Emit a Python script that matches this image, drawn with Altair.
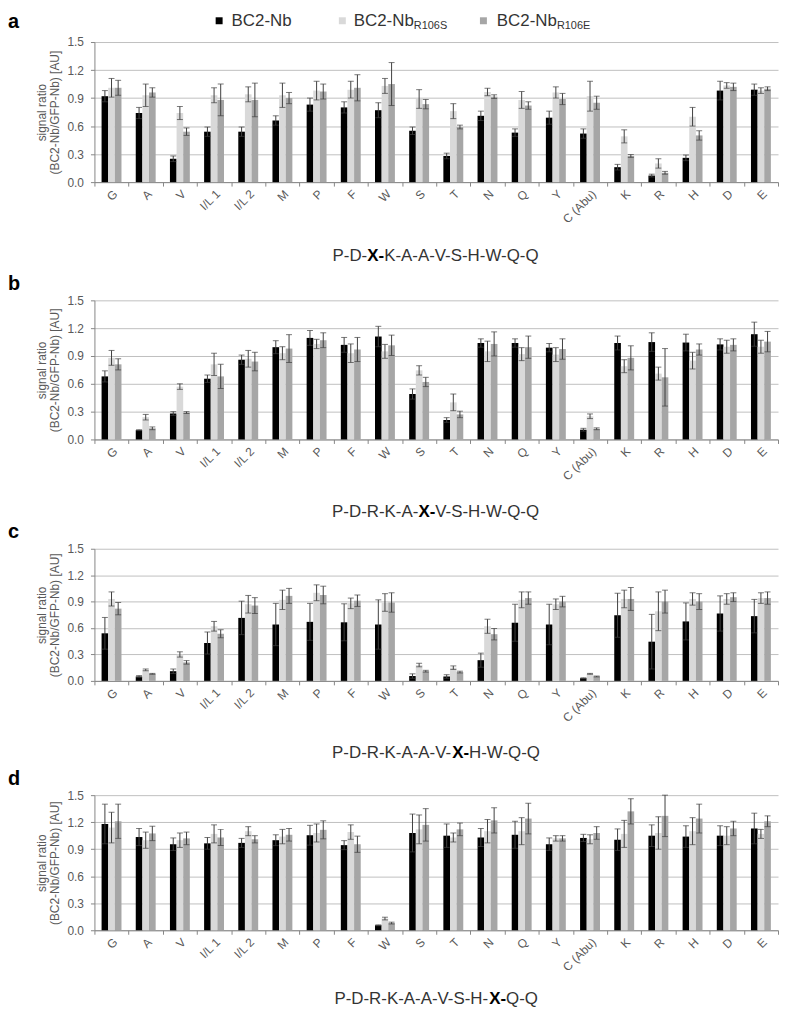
import altair as alt
import pandas as pd

categories = ["G", "A", "V", "I/L 1", "I/L 2", "M", "P", "F", "W", "S", "T",
              "N", "Q", "Y", "C (Abu)", "K", "R", "H", "D", "E"]
series = ["BC2-Nb", "BC2-Nb R106S", "BC2-Nb R106E"]
colors = ["#000000", "#d9d9d9", "#a6a6a6"]

# panel a
a_wt = [0.92, 0.74, 0.25, 0.54, 0.54, 0.66, 0.83, 0.80, 0.77, 0.55, 0.28, 0.71, 0.53, 0.69, 0.52, 0.16, 0.07, 0.26, 0.98, 0.99]
a_wt_sd = [0.06, 0.06, 0.03, 0.05, 0.05, 0.05, 0.07, 0.06, 0.08, 0.04, 0.03, 0.05, 0.04, 0.07, 0.05, 0.03, 0.015, 0.03, 0.10, 0.06]
a_s = [1.01, 0.93, 0.74, 0.93, 0.94, 0.93, 0.98, 0.99, 1.03, 0.89, 0.76, 0.965, 0.88, 0.96, 0.92, 0.49, 0.20, 0.70, 1.035, 0.98]
a_s_sd = [0.10, 0.12, 0.07, 0.08, 0.08, 0.13, 0.10, 0.09, 0.08, 0.10, 0.08, 0.04, 0.09, 0.06, 0.16, 0.07, 0.05, 0.10, 0.03, 0.03]
a_e = [1.01, 0.96, 0.54, 0.88, 0.88, 0.90, 0.97, 1.01, 1.05, 0.835, 0.59, 0.915, 0.82, 0.89, 0.85, 0.28, 0.10, 0.50, 1.02, 1.00]
a_e_sd = [0.08, 0.05, 0.04, 0.17, 0.18, 0.06, 0.08, 0.14, 0.23, 0.05, 0.02, 0.02, 0.04, 0.06, 0.07, 0.015, 0.015, 0.05, 0.04, 0.02]

# panel b
b_wt = [0.68, 0.10, 0.28, 0.655, 0.86, 0.995, 1.095, 1.02, 1.11, 0.49, 0.21, 1.04, 1.04, 0.99, 0.105, 1.04, 1.05, 1.045, 1.025, 1.135]
b_wt_sd = [0.06, 0.005, 0.02, 0.04, 0.05, 0.07, 0.08, 0.08, 0.11, 0.055, 0.025, 0.045, 0.045, 0.045, 0.015, 0.075, 0.10, 0.09, 0.06, 0.13]
b_s = [0.88, 0.24, 0.57, 0.81, 0.87, 0.93, 1.03, 0.93, 0.95, 0.745, 0.40, 0.95, 0.92, 0.915, 0.25, 0.79, 0.71, 0.85, 1.0, 1.0]
b_s_sd = [0.08, 0.03, 0.03, 0.12, 0.09, 0.07, 0.05, 0.10, 0.075, 0.05, 0.09, 0.11, 0.07, 0.075, 0.025, 0.07, 0.07, 0.09, 0.07, 0.07]
b_e = [0.81, 0.12, 0.29, 0.68, 0.84, 0.98, 1.07, 0.97, 1.015, 0.62, 0.27, 1.03, 0.995, 0.975, 0.115, 0.88, 0.67, 0.97, 1.02, 1.055]
b_e_sd = [0.06, 0.015, 0.01, 0.13, 0.10, 0.15, 0.08, 0.13, 0.11, 0.05, 0.035, 0.13, 0.12, 0.11, 0.01, 0.13, 0.31, 0.06, 0.065, 0.11]

# panel c
c_wt = [0.54, 0.05, 0.11, 0.43, 0.715, 0.64, 0.67, 0.665, 0.64, 0.055, 0.05, 0.235, 0.66, 0.64, 0.03, 0.745, 0.445, 0.675, 0.765, 0.735]
c_wt_sd = [0.18, 0.01, 0.025, 0.125, 0.19, 0.24, 0.21, 0.21, 0.28, 0.025, 0.02, 0.08, 0.21, 0.23, 0.005, 0.25, 0.31, 0.21, 0.20, 0.19]
c_s = [0.93, 0.125, 0.30, 0.62, 0.87, 0.92, 1.0, 0.88, 0.89, 0.18, 0.15, 0.62, 0.92, 0.87, 0.08, 0.93, 0.79, 0.93, 0.93, 0.94]
c_s_sd = [0.08, 0.01, 0.03, 0.055, 0.10, 0.11, 0.09, 0.06, 0.10, 0.02, 0.02, 0.08, 0.09, 0.06, 0.005, 0.10, 0.22, 0.07, 0.06, 0.06]
c_e = [0.82, 0.08, 0.21, 0.535, 0.855, 0.965, 0.975, 0.91, 0.89, 0.11, 0.10, 0.53, 0.94, 0.90, 0.05, 0.93, 0.90, 0.90, 0.95, 0.94]
c_e_sd = [0.07, 0.005, 0.02, 0.045, 0.09, 0.085, 0.10, 0.065, 0.11, 0.01, 0.01, 0.065, 0.07, 0.06, 0.005, 0.13, 0.13, 0.09, 0.05, 0.07]

# panel d
d_wt = [1.18, 1.035, 0.955, 0.965, 0.97, 1.0, 1.055, 0.945, 0.055, 1.08, 1.05, 1.03, 1.06, 0.955, 1.025, 1.005, 1.05, 1.04, 1.05, 1.13]
d_wt_sd = [0.22, 0.095, 0.07, 0.065, 0.05, 0.06, 0.11, 0.05, 0.005, 0.21, 0.13, 0.10, 0.15, 0.07, 0.04, 0.12, 0.12, 0.12, 0.11, 0.17]
d_s = [1.14, 1.0, 1.0, 1.07, 1.10, 1.04, 1.08, 1.09, 0.13, 1.12, 1.03, 1.1, 1.1, 1.02, 1.01, 1.07, 1.08, 1.1, 1.05, 1.07]
d_s_sd = [0.17, 0.09, 0.08, 0.10, 0.05, 0.08, 0.10, 0.08, 0.015, 0.16, 0.05, 0.13, 0.15, 0.03, 0.05, 0.15, 0.18, 0.15, 0.10, 0.05]
d_e = [1.21, 1.075, 1.02, 1.03, 1.01, 1.06, 1.115, 0.955, 0.08, 1.17, 1.12, 1.22, 1.24, 1.02, 1.08, 1.32, 1.27, 1.24, 1.13, 1.21]
d_e_sd = [0.19, 0.08, 0.07, 0.09, 0.04, 0.07, 0.10, 0.09, 0.01, 0.18, 0.07, 0.14, 0.17, 0.03, 0.07, 0.14, 0.23, 0.16, 0.08, 0.06]

panel_labels = ["a", "b", "c", "d"]
sequences = [
    ("P-D-", "X-", "K-A-A-V-S-H-W-Q-Q"),
    ("P-D-R-K-A-", "X-", "V-S-H-W-Q-Q"),
    ("P-D-R-K-A-A-V-", "X-", "H-W-Q-Q"),
    ("P-D-R-K-A-A-V-S-H-", "X-", "Q-Q"),
]
legend_main = "BC2-Nb"
legend_sub = ["", "R106S", "R106E"]
y_title = ["signal ratio", "(BC2-Nb/GFP-Nb) [AU]"]
y_ticks = [0.0, 0.3, 0.6, 0.9, 1.2, 1.5]

# ---- layout constants ----
W = 688
heights = [141, 140, 133, 136]
sub_y = [215, 213, 206, 205]
next_label_y = [244, 233.5, 231.5]
FONT = "Liberation Sans"
AXC = "#868686"
LBLC = "#595959"
ERRC = "#404040"
offset_domain = ["_pad_left"] + series + ["_pad_right"]

ARIAL = {"P": 0.667, "D": 0.722, "R": 0.722, "K": 0.667, "A": 0.667, "V": 0.667,
         "S": 0.667, "H": 0.722, "W": 0.944, "Q": 0.778, "X": 0.667, "-": 0.333,
         "B": 0.667, "C": 0.722, "2": 0.556, "N": 0.722, "b": 0.556}


def tw(s, fs):
    return sum(ARIAL[ch] for ch in s) * fs


def text_layer(txt, x, y, size, weight="normal", color="#333333", align="left"):
    return alt.Chart(pd.DataFrame({"t": [txt]})).mark_text(
        align=align, baseline="middle", fontSize=size, fontWeight=weight,
        font=FONT, color=color
    ).encode(text="t:N", x=alt.value(x), y=alt.value(y))


def yenc(field):
    return alt.Y(f"{field}:Q", scale=alt.Scale(domain=[0, 1.5], nice=False, zero=True),
                 axis=alt.Axis(values=y_ticks, format=".1f", title=y_title, grid=True,
                               gridColor="#c0c0c0", domainColor=AXC, tickColor=AXC,
                               tickSize=4, labelPadding=7, labelFontSize=12,
                               labelColor=LBLC, labelFont=FONT, titleFont=FONT,
                               titleFontSize=12, titleFontWeight="normal",
                               titleColor=LBLC, titlePadding=5, titleLineHeight=14))


def panel(k, means, sds):
    rows = []
    for si, s in enumerate(series):
        for ci, c in enumerate(categories):
            m = means[si][ci]
            sd = sds[si][ci]
            rows.append(dict(cat=c, series=s, value=m, lo=max(m - sd, 0), hi=m + sd))
    df = pd.DataFrame(rows)
    base = alt.Chart(df).encode(
        x=alt.X("cat:N", sort=categories, title=None,
                scale=alt.Scale(paddingInner=0, paddingOuter=0),
                axis=alt.Axis(labelAngle=-45, tickBand="extent", domainColor=AXC,
                              tickColor=AXC, tickSize=4, labelColor=LBLC,
                              labelFontSize=12, labelFont=FONT, grid=False,
                              labelPadding=2)),
        xOffset=alt.XOffset("series:N",
                            scale=alt.Scale(domain=offset_domain, paddingInner=0,
                                            paddingOuter=0.075)),
    )
    bars = base.mark_bar().encode(
        y=yenc("value"),
        color=alt.Color("series:N", scale=alt.Scale(domain=series, range=colors), legend=None),
    )
    rules = base.mark_rule(color=ERRC, strokeWidth=1).encode(y=yenc("lo"), y2="hi:Q")
    cap_hi = base.mark_tick(color=ERRC, thickness=1, size=6).encode(y=yenc("hi"))
    cap_lo = base.mark_tick(color=ERRC, thickness=1, size=6).encode(y=yenc("lo"))
    layers = [bars, rules, cap_hi, cap_lo]

    # sequence subtitle with bold X
    s1, s2, s3 = sequences[k]
    fs = 17
    total = tw(s1, fs) + tw(s2, fs) + tw(s3, fs)
    x0 = W / 2 - total / 2
    layers.append(text_layer(s1, x0, sub_y[k], fs))
    layers.append(text_layer(s2, x0 + tw(s1, fs), sub_y[k], fs, weight="bold", color="#000000"))
    layers.append(text_layer(s3, x0 + tw(s1, fs) + tw(s2, fs), sub_y[k], fs))

    if k == 0:
        layers.append(text_layer(panel_labels[0], -87, -20, 20, weight="bold", color="#000000"))
        sq_x = [125.5, 249.5, 391.5]
        txt_x = [138, 261, 405]
        for i in range(3):
            layers.append(alt.Chart(pd.DataFrame({"t": [series[i]]})).mark_square(
                size=49, color=colors[i], opacity=1).encode(
                x=alt.value(sq_x[i]), y=alt.value(-21.4)))
            layers.append(text_layer(legend_main, txt_x[i], -21.4, 17))
            if legend_sub[i]:
                layers.append(text_layer(legend_sub[i], txt_x[i] + tw(legend_main, 17),
                                         -16.5, 11))
    if k < 3:
        layers.append(text_layer(panel_labels[k + 1], -87, next_label_y[k], 20,
                                 weight="bold", color="#000000"))
    return alt.layer(*layers).properties(width=W, height=heights[k])


data_sets = [
    ([a_wt, a_s, a_e], [a_wt_sd, a_s_sd, a_e_sd]),
    ([b_wt, b_s, b_e], [b_wt_sd, b_s_sd, b_e_sd]),
    ([c_wt, c_s, c_e], [c_wt_sd, c_s_sd, c_e_sd]),
    ([d_wt, d_s, d_e], [d_wt_sd, d_s_sd, d_e_sd]),
]

charts = [panel(k, m, s) for k, (m, s) in enumerate(data_sets)]
chart = alt.vconcat(*charts, spacing=0).properties(
    padding={"left": 0, "right": 0, "top": 0, "bottom": 0}
).configure_view(strokeWidth=0).configure_text(font=FONT)

chart.save("out.html", embed_options={"renderer": "svg", "actions": False})
